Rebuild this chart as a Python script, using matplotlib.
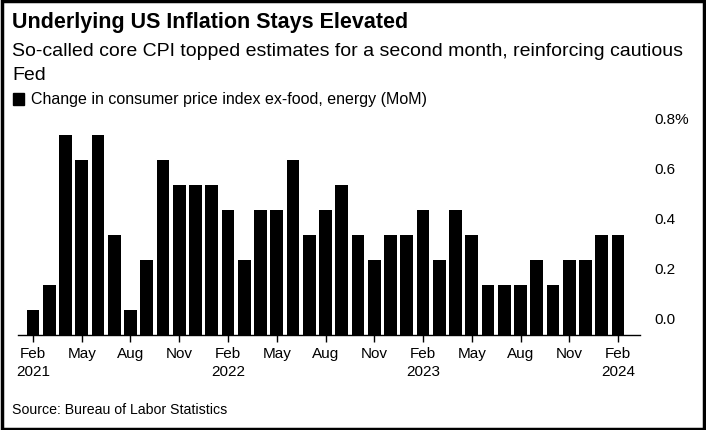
import matplotlib
matplotlib.use("Agg")
import matplotlib.pyplot as plt
import pandas as pd

months = pd.date_range("2021-02-01", "2024-02-01", freq="MS")
values = [0.1,0.2,0.8,0.7,0.8,0.4,0.1,0.3,0.7,0.6,0.6,
          0.6,0.5,0.3,0.5,0.5,0.7,0.4,0.5,0.6,0.4,0.3,0.4,
          0.4,0.5,0.3,0.5,0.4,0.2,0.2,0.2,0.3,0.2,0.3,0.3,
          0.4,0.4]
ytick_vals = [0.0, 0.2, 0.4, 0.6, 0.8]
ytick_labels = ["0.0", "0.2", "0.4", "0.6", "0.8%"]

plt.rcParams['font.family'] = ['Liberation Sans', 'DejaVu Sans']
fig = plt.figure(figsize=(7.06, 4.30), dpi=100)
fig.patches.append(plt.Rectangle((0.003, 0.003), 0.994, 0.994, transform=fig.transFigure,
                                 fill=False, edgecolor='black', linewidth=2.5))
fig.text(0.017, 0.948, "Underlying US Inflation Stays Elevated", fontsize=15.5, fontweight='bold', va='center')
fig.text(0.017, 0.880, "So-called core CPI topped estimates for a second month, reinforcing cautious", fontsize=14, va='center')
fig.text(0.017, 0.825, "Fed", fontsize=14, va='center')
fig.patches.append(plt.Rectangle((0.019, 0.755), 0.015, 0.028, transform=fig.transFigure, color='black'))
fig.text(0.044, 0.769, "Change in consumer price index ex-food, energy (MoM)", fontsize=11.5, va='center')
fig.text(0.017, 0.047, "Source: Bureau of Labor Statistics", fontsize=10.2, va='center')

ax = fig.add_axes([18/706, 0.22, 622/706, 0.50])
x = list(range(len(values)))
ax.bar(x, values, width=0.78, color='black')
ax.set_xlim(-0.92, 37.35)
ax.set_ylim(0, 0.86)
for s in ['top', 'right', 'left']:
    ax.spines[s].set_visible(False)
ax.spines['bottom'].set_linewidth(1)
ax.set_yticks([])
for v, l in zip(ytick_vals, ytick_labels):
    ax.text(38.25, v + 0.035, l, fontsize=11, ha='left', va='bottom', clip_on=False)
tick_idx = list(range(0, len(values), 3))
labels = []
for i in tick_idx:
    m = months[i]
    lab = m.strftime("%b")
    if m.month == 2:
        lab += "\n" + str(m.year)
    labels.append(lab)
ax.set_xticks(tick_idx)
ax.set_xticklabels(labels, fontsize=11, linespacing=1.4)
ax.tick_params(axis='x', length=5, width=1, pad=3)
fig.savefig("out.png", dpi=100)
